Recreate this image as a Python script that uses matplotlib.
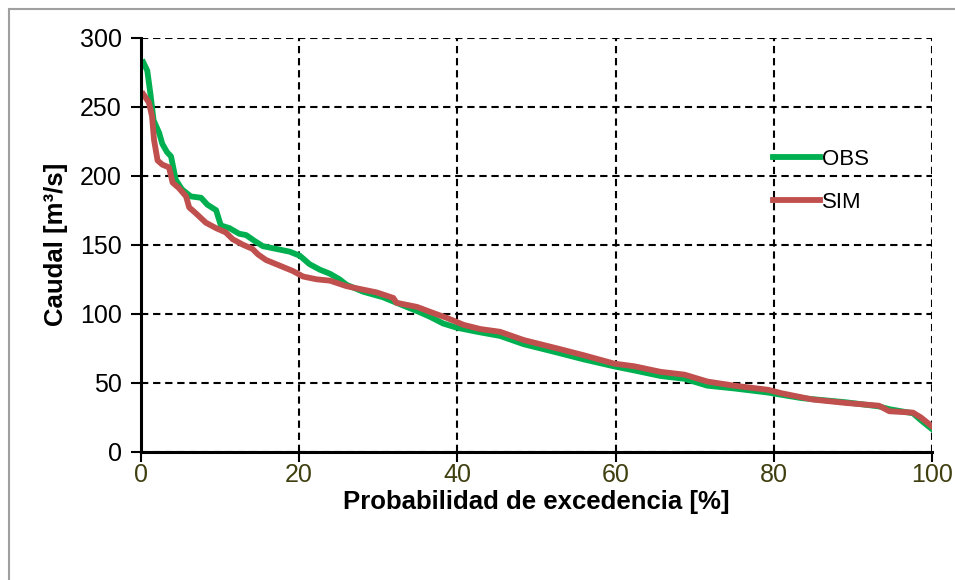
import matplotlib.pyplot as plt
from matplotlib.lines import Line2D

plt.rcParams['font.family'] = ['Liberation Sans', 'DejaVu Sans']

# curva de duracion de caudales
obs_x = [0.3, 0.8, 1.2, 1.6, 2.3, 2.7, 3.3, 3.8, 4.4, 5.2, 6.3, 7.6, 8.4, 9.5, 10.1,
         11.2, 12.4, 13.3, 14.3, 15.4, 17.1, 18.8, 20.1, 21.3, 22.6, 23.9, 25.1, 26.0,
         28.1, 30.6, 32.3, 34.9, 36.5, 38.2, 39.9, 42.5, 45.4, 48.4, 52.6, 56.0, 59.8,
         62.4, 65.7, 68.7, 71.6, 75.0, 79.3, 83.5, 89.1, 93.3, 94.6, 97.6, 98.6, 99.9]
obs_y = [282, 276, 259, 240, 231, 223, 217, 214, 197, 190, 185, 184, 179, 175, 164,
         162, 158, 157, 153, 149, 147, 145, 142, 136, 132, 129, 125, 121,
         116, 112, 108, 102, 98, 93, 90, 87, 84, 78, 72, 67, 62,
         59, 55, 53, 48, 46, 43, 39, 36, 33, 31, 28, 23, 17]

sim_x = [0.3, 1.0, 1.4, 1.65, 2.1, 2.7, 3.55, 4.0, 4.8, 5.7, 6.1, 6.9, 8.2, 9.5, 10.7,
         11.6, 12.9, 14.1, 14.8, 15.8, 17.5, 19.2, 20.5, 22.2, 23.9, 26.0, 28.1, 29.8,
         31.9, 32.3, 34.9, 37.0, 38.7, 40.8, 42.9, 45.4, 48.4, 52.6, 56.0, 59.8, 62.4,
         65.7, 68.7, 71.6, 75.0, 79.3, 81.0, 84.9, 89.1, 93.3, 94.6, 97.6, 98.6, 99.9]
sim_y = [259, 253, 243, 226, 211, 208, 206, 195, 191, 185, 177, 173, 166, 162, 159,
         154, 150, 147, 143, 139, 135, 131, 127, 125, 124, 120, 117.5, 115.5,
         111.5, 108, 105, 100.5, 97, 92, 89, 87, 81, 75, 70, 64, 62,
         58, 56, 51, 48, 45, 42.5, 38, 35.5, 33.5, 29.5, 28.5, 25, 19]

fig = plt.figure(figsize=(9.55, 5.8), dpi=100)
ax = fig.add_axes([0.1476, 0.2207, 0.8283, 0.7146])

ax.plot(obs_x, obs_y, color='#00B050', lw=4.2, label='OBS', solid_joinstyle='round')
ax.plot(sim_x, sim_y, color='#C0504D', lw=4.2, label='SIM', solid_joinstyle='round')

ax.set_xlim(0, 100)
ax.set_ylim(0, 300)
ax.set_xticks(range(0, 101, 20))
ax.set_yticks(range(0, 301, 50))
ax.grid(True, color='black', linestyle=(0, (3.5, 2.3)), linewidth=1.5)
ax.set_axisbelow(True)
for s in ['top', 'right']:
    ax.spines[s].set_visible(False)
for s in ['left', 'bottom']:
    ax.spines[s].set_linewidth(2.2)
ax.tick_params(axis='both', direction='out', length=7, width=1.5, labelsize=18)
ax.tick_params(axis='x', labelcolor='#3f3f10', pad=1)
ax.tick_params(axis='y', labelcolor='black', pad=7)

ax.set_xlabel('Probabilidad de excedencia [%]', fontsize=18.5, fontweight='bold', labelpad=2)
ax.set_ylabel('Caudal [m³/s]', fontsize=18.5, fontweight='bold', labelpad=8)

ax.legend(loc='upper left', bbox_to_anchor=(0.799, 0.732), frameon=False, fontsize=16,
          borderpad=0, borderaxespad=0,
          handlelength=2.1, handletextpad=0.1, labelspacing=1.0)

# marco gris del objeto
fig.add_artist(Line2D([9 / 955, 9 / 955], [0, 1 - 9 / 580], color='#a0a0a0', lw=1.5))
fig.add_artist(Line2D([9 / 955, 1], [1 - 9 / 580, 1 - 9 / 580], color='#a0a0a0', lw=1.5))

plt.savefig('out.png', dpi=100)
